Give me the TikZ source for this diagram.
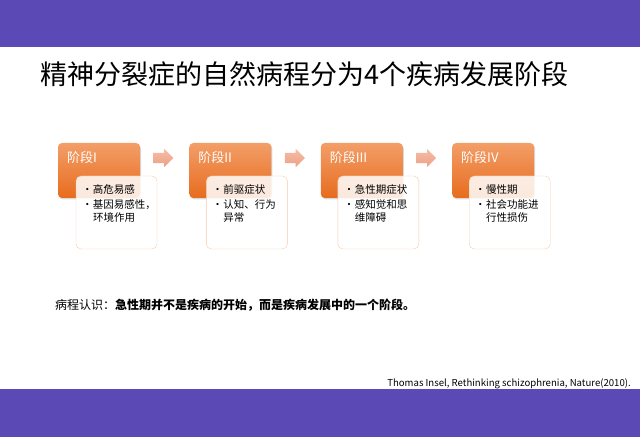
\documentclass[tikz,border=0pt]{standalone}
\usepackage{fontspec}
\setmainfont{Noto Sans CJK SC}
\usetikzlibrary{positioning,shapes.arrows,shadows}
\definecolor{bandpurple}{RGB}{91,74,181}
\definecolor{orgtop}{RGB}{243,158,104}
\definecolor{orgbot}{RGB}{231,108,30}
\definecolor{descline}{RGB}{247,202,172}
\definecolor{arrtop}{RGB}{245,190,168}
\definecolor{arrbot}{RGB}{236,160,132}
\newcommand{\bitem}[1]{\makebox[11bp][l]{•}#1}
\newcommand{\bcont}[1]{\hspace*{11bp}#1}

\begin{document}
\begin{tikzpicture}[x=1bp,y=-1bp,
  st/.style={draw=none,rounded corners=4bp,top color=orgtop,bottom color=orgbot,minimum width=82bp,minimum height=55bp,inner sep=0pt,
    drop shadow={opacity=0.3,shadow xshift=1bp,shadow yshift=-1.5bp}},
  ds/.style={draw=descline,fill=white,fill opacity=0.85,rounded corners=5bp,minimum width=81bp,minimum height=73bp,inner sep=0pt},
  lb/.style={anchor=west,text=white,inner sep=0pt,font=\fontsize{13bp}{15bp}\selectfont},
  tx/.style={anchor=north west,align=left,inner sep=0pt,font=\fontsize{10.5bp}{13bp}\selectfont},
  ar/.style={single arrow,single arrow head extend=4bp,inner xsep=0pt,inner ysep=5bp,minimum height=20bp,draw=none,top color=arrtop,bottom color=arrbot}]
  \useasboundingbox (0,0) rectangle (640,437);
  % bands
  \fill[bandpurple] (0,0) rectangle (640,47);
  \fill[bandpurple] (0,389) rectangle (640,437);
  \node[anchor=west,inner sep=0pt,font=\fontsize{27bp}{30bp}\selectfont](title) at (40,74.5){精神分裂症的自然病程分为4个疾病发展阶段};
  % stage row
  \node[st](s1) at (99,170.5){};
  \node[st,right=49bp of s1](s2){};
  \node[st,right=49bp of s2](s3){};
  \node[st,right=49bp of s3](s4){};
  \node[ar,right=13bp of s1.east,yshift=12.5bp](a1){};
  \node[ar,right=13bp of s2.east,yshift=12.5bp](a2){};
  \node[ar,right=13bp of s3.east,yshift=12.5bp](a3){};
  \node[lb](l1) at ([xshift=9bp,yshift=-15bp]s1.north west){阶段I};
  \node[lb](l2) at ([xshift=9bp,yshift=-15bp]s2.north west){阶段II};
  \node[lb](l3) at ([xshift=9bp,yshift=-15bp]s3.north west){阶段III};
  \node[lb](l4) at ([xshift=9bp,yshift=-15bp]s4.north west){阶段IV};
  % description boxes
  \node[ds,anchor=north west](d1) at ([xshift=18bp,yshift=-33bp]s1.north west){};
  \node[ds,anchor=north west](d2) at ([xshift=17bp,yshift=-33bp]s2.north west){};
  \node[ds,anchor=north west](d3) at ([xshift=17bp,yshift=-33bp]s3.north west){};
  \node[ds,anchor=north west](d4) at ([xshift=17bp,yshift=-33bp]s4.north west){};
  \node[tx](t1) at ([xshift=6bp,yshift=-9bp]d1.north west){\bitem{高危易感}\\[2bp]\bitem{基因易感性，}\\\bcont{环境作用}};
  \node[tx](t2) at ([xshift=6bp,yshift=-9bp]d2.north west){\bitem{前驱症状}\\[2bp]\bitem{认知、行为}\\\bcont{异常}};
  \node[tx](t3) at ([xshift=6bp,yshift=-9bp]d3.north west){\bitem{急性期症状}\\[2bp]\bitem{感知觉和思}\\\bcont{维障碍}};
  \node[tx](t4) at ([xshift=6bp,yshift=-9bp]d4.north west){\bitem{慢性期}\\[2bp]\bitem{社会功能进}\\\bcont{行性损伤}};
  % note and source
  \node[anchor=west,inner sep=0pt,font=\fontsize{12bp}{14bp}\selectfont](note) at (55,305){病程认识：\textbf{急性期并不是疾病的开始，而是疾病发展中的一个阶段。}};
  \node[anchor=base east,inner sep=0pt,font=\fontsize{9.6bp}{12bp}\selectfont](cite) at (631,386){Thomas Insel, Rethinking schizophrenia, Nature(2010).};
\end{tikzpicture}
\end{document}
